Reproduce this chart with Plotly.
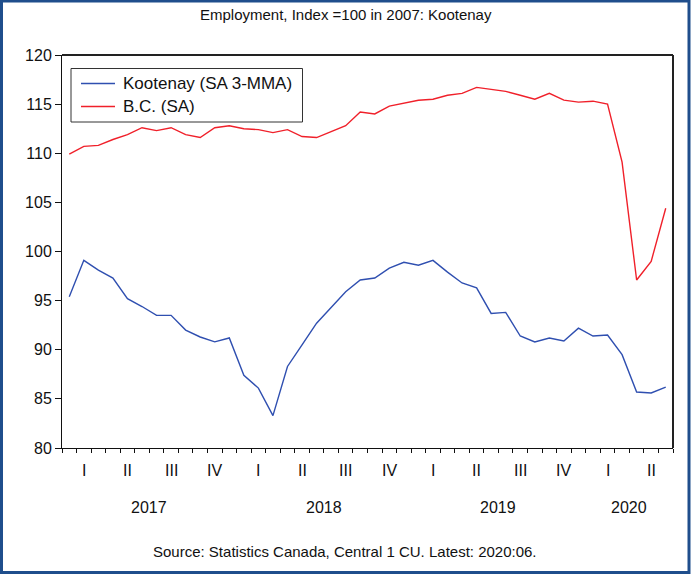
import plotly.graph_objects as go

# ---- data ----
kootenay = [95.4, 99.1, 98.1, 97.3, 95.2, 94.4, 93.5, 93.5, 92.0, 91.3, 90.8, 91.2,
            87.4, 86.1, 83.3, 88.3, 90.5, 92.7, 94.3, 95.9, 97.1, 97.3, 98.3, 98.9,
            98.6, 99.1, 97.9, 96.8, 96.3, 93.7, 93.8, 91.4, 90.8, 91.2, 90.9, 92.2,
            91.4, 91.5, 89.5, 85.7, 85.6, 86.2]
bc = [109.9, 110.7, 110.8, 111.4, 111.9, 112.6, 112.3, 112.6, 111.9, 111.6, 112.6, 112.8,
      112.5, 112.4, 112.1, 112.4, 111.7, 111.6, 112.2, 112.8, 114.2, 114.0, 114.8, 115.1,
      115.4, 115.5, 115.9, 116.1, 116.7, 116.5, 116.3, 115.9, 115.5, 116.1, 115.4, 115.2,
      115.3, 115.0, 109.1, 97.1, 99.0, 104.4]
quarter_labels = ["I", "II", "III", "IV"] * 3 + ["I", "II"]
year_labels = ["2017", "2018", "2019", "2020"]
series_names = ["Kootenay (SA 3-MMA)", "B.C. (SA)"]
series_colors = ["#2f4fb0", "#f0202a"]
title_text = "Employment, Index =100 in 2007: Kootenay"
source_text = "Source: Statistics Canada, Central 1 CU. Latest: 2020:06."
y_ticks = [80, 85, 90, 95, 100, 105, 110, 115, 120]

n = len(kootenay)
x = list(range(n))

W, H = 691, 579
L, R, T, B = 62, 673, 55, 448
pw, ph = R - L, B - T

def px_x(p):
    return (p - L) / pw

def px_y(q):
    return (B - q) / ph

FONT = "Liberation Sans, Arial, sans-serif"
TXT = "#111111"

fig = go.Figure()
for vals, name, col in zip([kootenay, bc], series_names, series_colors):
    fig.add_trace(go.Scatter(x=x, y=vals, mode="lines", name=name,
                             line=dict(color=col, width=1.4), showlegend=False))

quarter_bounds = [q * 3 - 0.5 for q in range(len(quarter_labels) + 1)]
month_bounds = [m - 0.5 for m in range(n + 1)]

fig.update_layout(
    width=W, height=H,
    margin=dict(l=L, r=W - R, t=T, b=H - B),
    paper_bgcolor="white", plot_bgcolor="white",
    font=dict(family=FONT, color=TXT, size=16),
    showlegend=False,
    xaxis=dict(range=[-0.5, n - 0.5], showgrid=False, zeroline=False,
               showline=True, linecolor="#111", linewidth=1, mirror=False,
               tickmode="array", tickvals=quarter_bounds, ticktext=[""] * len(quarter_bounds),
               ticks="outside", ticklen=8, tickwidth=1, tickcolor="#111",
               minor=dict(tickmode="array", tickvals=month_bounds, ticks="outside",
                          ticklen=4, tickwidth=1, tickcolor="#111", showgrid=False)),
    yaxis=dict(range=[80, 120], tickvals=y_ticks, showgrid=False, zeroline=False,
               showline=True, linecolor="#111", linewidth=1, mirror=False,
               ticks="outside", ticklen=6, tickwidth=1, tickcolor="#111",
               tickfont=dict(size=16, family=FONT, color=TXT)),
)

# frame top/right
fig.add_shape(type="line", xref="paper", yref="paper", x0=0, x1=1, y0=1, y1=1,
              line=dict(color="#222", width=2))
fig.add_shape(type="line", xref="paper", yref="paper", x0=1, x1=1, y0=0, y1=1,
              line=dict(color="#222", width=2))

# outer blue border
fig.add_shape(type="rect", xref="paper", yref="paper",
              x0=px_x(1.5), x1=px_x(689), y0=px_y(572.5), y1=px_y(1),
              line=dict(color="#1f4e8c", width=3), fillcolor="rgba(0,0,0,0)", layer="above")

annotations = []

# manual legend
fig.add_shape(type="rect", xref="paper", yref="paper",
              x0=px_x(71), x1=px_x(302.5), y0=px_y(122), y1=px_y(68.5),
              line=dict(color="#333", width=1), fillcolor="white", layer="above")
legend_rows = [83.5, 106.5]
for name, col, yy in zip(series_names, series_colors, legend_rows):
    fig.add_shape(type="line", xref="paper", yref="paper",
                  x0=px_x(81), x1=px_x(115), y0=px_y(yy), y1=px_y(yy),
                  line=dict(color=col, width=1.4), layer="above")
    annotations.append(dict(x=px_x(121), y=px_y(yy), xref="paper", yref="paper",
                            text=name, showarrow=False, xanchor="left", yanchor="middle",
                            font=dict(size=17, family=FONT, color=TXT)))

for k, lab in enumerate(quarter_labels):
    annotations.append(dict(x=k * 3 + 1, y=px_y(470), xref="x", yref="paper",
                            text=lab, showarrow=False, xanchor="center", yanchor="middle",
                            font=dict(size=16, family=FONT, color=TXT)))
for k, lab in enumerate(year_labels):
    first = k * 12
    last = min(first + 11, n - 1)
    annotations.append(dict(x=(first + last) / 2, y=px_y(507), xref="x", yref="paper",
                            text=lab, showarrow=False, xanchor="center", yanchor="middle",
                            font=dict(size=16, family=FONT, color=TXT)))
annotations.append(dict(x=px_x(345), y=px_y(551), xref="paper", yref="paper",
                        text=source_text, showarrow=False, xanchor="center", yanchor="middle",
                        font=dict(size=15, family=FONT, color=TXT)))
annotations.append(dict(x=px_x(345.5), y=px_y(15), xref="paper", yref="paper",
                        text=title_text, showarrow=False, xanchor="center", yanchor="middle",
                        font=dict(size=15, family=FONT, color=TXT)))
fig.update_layout(annotations=annotations)

fig.write_html("out.html",
               config={"displayModeBar": False},
               post_script="document.body.style.margin='0';document.body.style.padding='0';"
                           "document.body.style.overflow='hidden';")
